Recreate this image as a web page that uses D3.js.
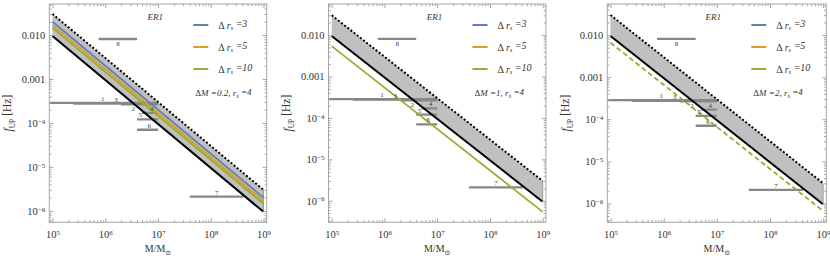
<!DOCTYPE html>
<html>
<head>
<meta charset="utf-8">
<script src="https://cdn.jsdelivr.net/npm/d3@7"></script>
<style>
  body { margin: 0; background: #fff; }
  text { font-family: "Liberation Serif", "DejaVu Serif", serif; }
</style>
</head>
<body>
<svg width="830" height="260"></svg>
<script>
// mass axis (solar masses)
const massEnds = [1e5, 1e9];
const massTicks = [1e5, 1e6, 1e7, 1e8, 1e9];
const massExp = ["5", "6", "7", "8", "9"];
// frequency axis (Hz)
const freqTicks = [1e-2, 1e-3, 1e-4, 1e-5, 1e-6];
const freqPlain = ["0.010", "0.001", null, null, null];
const freqExp = [null, null, "\u22124", "\u22125", "\u22126"];

// band edges, value at M = 1e5 and at M = 1e9
const upperEdge = [0.030, 3.0e-6];
const lowerEdge = [0.0095, 9.5e-7];

// Δr_s curves
const rs3Panel1 = [0.0200, 2.0e-6];
const rs5Panel1 = [0.0168, 1.68e-6];
const rs10Panel1 = [0.0145, 1.45e-6];
const rs10Panel2 = [0.0054, 5.4e-7];
const rs10Panel3 = [0.0066, 6.6e-7];

const deltaM = ["0.2", "1", "2"];
const legendRs = ["3", "5", "10"];

// observed sources: horizontal bars
const srcId = ["1", "3", "2", "4", "5", "6", "7", "8"];
const srcMassLo = [1e4, 2.5e5, 2.0e6, 5.0e6, 4.0e6, 4.0e6, 4.0e7, 7.5e5];
const srcMassHi = [1e7, 1.0e7, 1.0e7, 1.0e7, 1.0e7, 1.0e7, 4.2e8, 4.0e6];
const srcFreq = [2.85e-4, 2.75e-4, 2.65e-4, 1.7e-4, 1.2e-4, 7.0e-5, 2.1e-6, 8.1e-3];
const srcLabelMass = [9.0e5, 1.6e6, 3.4e6, 7.5e6, 4.6e6, 6.8e6, 1.3e8, 1.75e6];

const blue = "#5e81b5", orange = "#e19c24", green = "#8fb032";
const frameCol = "#a5a5a5";

const svg = d3.select("svg");
const plotTop = 4, plotBottom = 222.3;
const panelLeft = [49.3, 328.5, 607.3];
const panelWidth = [217.4, 217.4, 219];
const yDomains = [[Math.pow(10, -6.26), Math.pow(10, -1.295)],
                  [Math.pow(10, -6.52), Math.pow(10, -1.25)],
                  [Math.pow(10, -6.45), Math.pow(10, -1.26)]];
const panelCurves = [
  [{v: rs3Panel1, c: blue}, {v: rs5Panel1, c: orange}, {v: rs10Panel1, c: green}],
  [{v: rs10Panel2, c: green}],
  [{v: rs10Panel3, c: green, dash: "5,3"}]
];

function minorTicks(lo, hi) {
  const out = [];
  for (let k = Math.floor(Math.log10(lo)); k <= Math.ceil(Math.log10(hi)); k++) {
    for (let m = 2; m <= 9; m++) {
      const v = m * Math.pow(10, k);
      if (v >= lo && v <= hi) out.push(v);
    }
  }
  return out;
}

panelLeft.forEach((left, p) => {
  const w = panelWidth[p];
  const pad = 3.2 / (w - 6.4) * 4;
  const x = d3.scaleLog().domain([Math.pow(10, 5 - pad), Math.pow(10, 9 + pad)]).range([left, left + w]);
  const y = d3.scaleLog().domain(yDomains[p]).range([plotBottom, plotTop]);
  const g = svg.append("g");

  const clipId = "clip" + p;
  g.append("clipPath").attr("id", clipId).append("rect")
    .attr("x", left).attr("y", plotTop).attr("width", w).attr("height", plotBottom - plotTop);
  const plot = g.append("g").attr("clip-path", `url(#${clipId})`);

  // shaded band
  const area = d3.area()
    .x((d, i) => x(massEnds[i]))
    .y0((d, i) => y(lowerEdge[i]))
    .y1((d, i) => y(upperEdge[i]));
  plot.append("path").datum(massEnds).attr("d", area).attr("fill", "#c0c0c0");
  plot.append("line")
    .attr("x1", x(massEnds[1])).attr("x2", x(massEnds[1]))
    .attr("y1", y(lowerEdge[1])).attr("y2", y(upperEdge[1]))
    .attr("stroke", "#9a9a9a").attr("stroke-width", 1);

  // source bars
  plot.selectAll("line.src").data(srcId).join("line")
    .attr("class", "src")
    .attr("x1", (d, i) => x(srcMassLo[i])).attr("x2", (d, i) => x(srcMassHi[i]))
    .attr("y1", (d, i) => y(srcFreq[i])).attr("y2", (d, i) => y(srcFreq[i]))
    .attr("stroke", "#878787").attr("stroke-width", 2.3);

  const line = (vals) => d3.line().x((d, i) => x(massEnds[i])).y((d, i) => y(vals[i]))(massEnds);

  panelCurves[p].forEach(c => {
    plot.append("path").attr("d", line(c.v)).attr("fill", "none")
      .attr("stroke", c.c).attr("stroke-width", 1.8)
      .attr("stroke-dasharray", c.dash || null);
  });
  plot.append("path").attr("d", line(lowerEdge)).attr("fill", "none")
    .attr("stroke", "#000").attr("stroke-width", 2);
  plot.append("path").attr("d", line(upperEdge)).attr("fill", "none")
    .attr("stroke", "#000").attr("stroke-width", 2).attr("stroke-dasharray", "2,2");

  // source labels
  g.selectAll("text.src").data(srcId).join("text")
    .attr("class", "src")
    .attr("x", (d, i) => x(srcLabelMass[i]))
    .attr("y", (d, i) => y(srcFreq[i]) + ((d === "2" || d === "8") ? 7 : -2))
    .attr("text-anchor", "middle").attr("font-size", 7).attr("fill", "#444")
    .text(d => d);

  // frame
  g.append("rect").attr("x", left).attr("y", plotTop).attr("width", w).attr("height", plotBottom - plotTop)
    .attr("fill", "none").attr("stroke", frameCol).attr("stroke-width", 1);

  const xMinor = minorTicks(x.domain()[0], x.domain()[1]);
  const yMinor = minorTicks(y.domain()[0], y.domain()[1]);

  const styleAxis = sel => {
    sel.select(".domain").remove();
    sel.selectAll(".tick line").attr("stroke", frameCol);
  };

  // bottom axis with labels
  const ax = g.append("g").attr("transform", `translate(0,${plotBottom})`)
    .call(d3.axisBottom(x).tickValues(massTicks).tickSizeInner(-4).tickSizeOuter(0).tickPadding(8).tickFormat(""))
    .call(styleAxis);
  ax.selectAll(".tick text").each(function (d, i) {
    const t = d3.select(this).attr("fill", "#333").attr("font-size", 10.5)
      .attr("font-family", "Liberation Serif, serif");
    t.text("10");
    t.append("tspan").attr("dy", "-0.45em").attr("font-size", 7).text(massExp[i]);
  });
  g.append("g").attr("transform", `translate(0,${plotBottom})`)
    .call(d3.axisBottom(x).tickValues(xMinor).tickSizeInner(-2.2).tickSizeOuter(0).tickFormat(""))
    .call(styleAxis);
  // top axis
  g.append("g").attr("transform", `translate(0,${plotTop})`)
    .call(d3.axisTop(x).tickValues(massTicks).tickSizeInner(-4).tickSizeOuter(0).tickFormat(""))
    .call(styleAxis);
  g.append("g").attr("transform", `translate(0,${plotTop})`)
    .call(d3.axisTop(x).tickValues(xMinor).tickSizeInner(-2.2).tickSizeOuter(0).tickFormat(""))
    .call(styleAxis);

  // left axis with labels
  const ay = g.append("g").attr("transform", `translate(${left},0)`)
    .call(d3.axisLeft(y).tickValues(freqTicks).tickSizeInner(-4).tickSizeOuter(0).tickPadding(4).tickFormat(""))
    .call(styleAxis);
  ay.selectAll(".tick text").each(function (d, i) {
    const t = d3.select(this).attr("fill", "#333").attr("font-size", 10.5)
      .attr("font-family", "Liberation Serif, serif");
    if (freqPlain[i]) {
      t.text(freqPlain[i]);
    } else {
      t.text("10");
      t.append("tspan").attr("dy", "-0.45em").attr("font-size", 7).text(freqExp[i]);
    }
  });
  g.append("g").attr("transform", `translate(${left},0)`)
    .call(d3.axisLeft(y).tickValues(yMinor).tickSizeInner(-2.2).tickSizeOuter(0).tickFormat(""))
    .call(styleAxis);
  // right axis
  g.append("g").attr("transform", `translate(${left + w},0)`)
    .call(d3.axisRight(y).tickValues(freqTicks).tickSizeInner(-4).tickSizeOuter(0).tickFormat(""))
    .call(styleAxis);
  g.append("g").attr("transform", `translate(${left + w},0)`)
    .call(d3.axisRight(y).tickValues(yMinor).tickSizeInner(-2.2).tickSizeOuter(0).tickFormat(""))
    .call(styleAxis);

  // axis titles
  const xt = g.append("text").attr("x", left + w / 2).attr("y", 252)
    .attr("text-anchor", "middle").attr("font-size", 10).attr("fill", "#333");
  xt.append("tspan").text("M/M");
  xt.append("tspan").attr("dy", "0.45em").attr("font-size", 7).text("\u2299");

  const yt = g.append("text")
    .attr("transform", `translate(${left - 37},${(plotTop + plotBottom) / 2}) rotate(-90)`)
    .attr("text-anchor", "middle").attr("font-size", 11.5).attr("fill", "#333");
  yt.append("tspan").attr("font-style", "italic").text("f");
  yt.append("tspan").attr("dy", "0.35em").attr("font-size", 7.5).text("UP");
  yt.append("tspan").attr("dy", "-0.35em").text(" [Hz]");

  // in-plot annotations
  g.append("text").attr("x", left + 106).attr("y", 20).attr("text-anchor", "middle")
    .attr("font-size", 9).attr("font-style", "italic").attr("fill", "#333").text("ER1");

  const legendColors = [blue, orange, green];
  legendRs.forEach((r, i) => {
    const ly = 25 + i * 22;
    g.append("line").attr("x1", left + 144).attr("x2", left + 159)
      .attr("y1", ly).attr("y2", ly).attr("stroke", legendColors[i]).attr("stroke-width", 2);
    const t = g.append("text").attr("x", left + 169).attr("y", ly + 3.5)
      .attr("font-size", 10).attr("fill", "#333");
    t.append("tspan").text("\u0394 ");
    t.append("tspan").attr("font-style", "italic").text("r");
    t.append("tspan").attr("font-style", "italic").attr("font-size", 6.5).attr("dy", "0.3em").text("s");
    t.append("tspan").attr("font-style", "italic").attr("dy", "-0.3em").text(" =" + r);
  });

  const note = g.append("text").attr("x", left + 146).attr("y", 96)
    .attr("font-size", 9).attr("font-style", "italic").attr("fill", "#333");
  note.append("tspan").attr("font-style", "normal").text("\u0394");
  note.append("tspan").text("M =" + deltaM[p] + ", r");
  note.append("tspan").attr("font-size", 6.5).attr("dy", "0.3em").text("s");
  note.append("tspan").attr("dy", "-0.3em").text(" =4");
});
</script>
</body>
</html>
